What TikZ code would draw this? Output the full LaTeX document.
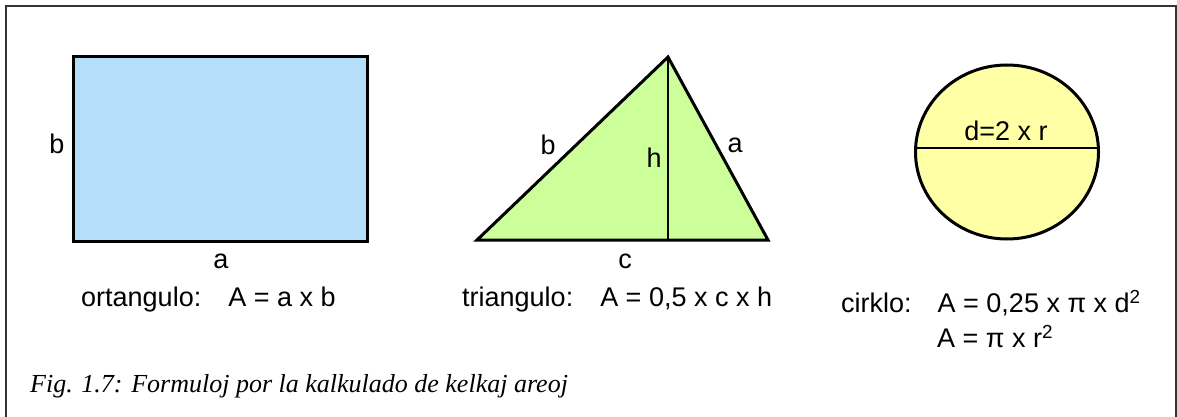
\documentclass[tikz,border=0pt]{standalone}
\usepackage{fontspec}
\setmainfont{Liberation Sans}
\newfontfamily\capfont{Liberation Serif}
\definecolor{rectfill}{RGB}{180,222,250}
\definecolor{trifill}{RGB}{204,255,153}
\definecolor{circfill}{RGB}{255,255,166}
\definecolor{framecol}{RGB}{51,51,51}
\begin{document}
\begin{tikzpicture}[x=1pt,y=-1pt,
  lbl/.style={inner sep=0pt, font=\fontsize{27}{32}\selectfont},
  shapeline/.style={line width=3pt, line join=miter},
  thinline/.style={line width=2pt},
  framebox/.style={draw=framecol, line width=1.5pt}]
\useasboundingbox (0,0) rectangle (1177,417);
% frame
\draw[framebox] (6,417) -- (6,6) -- (1176,6) -- (1176,417);
% rectangle
\coordinate (r1) at (73,57);
\coordinate (r2) at (367,241);
\draw[shapeline, fill=rectfill] (r1) rectangle (r2);
\node[lbl] (rb) at (57,144) {b};
\node[lbl] (ra) at (221,261) {a};
\node[lbl, anchor=west] (rf) at (81,300) {ortangulo:\hspace{27pt}A = a x b};
% triangle
\coordinate (tl) at (477,240);
\coordinate (tt) at (668,57);
\coordinate (tr) at (768,240);
\coordinate (tf) at (668,240);
\draw[shapeline, fill=trifill] (tl) -- (tt) -- (tr) -- cycle;
\draw[thinline] (tt) -- (tf);
\node[lbl] (tb) at (548,145) {b};
\node[lbl] (th) at (654,158) {h};
\node[lbl] (ta) at (735,145) {a};
\node[lbl] (tc) at (625,261) {c};
\node[lbl, anchor=west] (tfm) at (462,300) {triangulo:\hspace{27pt}A = 0,5 x c x h};
% circle
\coordinate (cc) at (1007,152);
\draw[shapeline, fill=circfill] (cc) ellipse [x radius=91.5, y radius=87];
\coordinate (dl) at (915,148);
\coordinate (dr) at (1100,148);
\draw[thinline] (dl) -- (dr);
\node[lbl] (cd) at (1006,131) {d=2 x r};
\node[lbl, anchor=west] (cf1) at (841,303) {cirklo:\hspace{26pt}A = 0,25 x π x d\textsuperscript{2}};
\node[lbl, anchor=west] (cf2) at (937,337) {A = π x r\textsuperscript{2}};
% caption
\node[inner sep=0pt, anchor=west, font=\capfont\itshape\fontsize{26}{30}\selectfont] (cap) at (30,386) {Fig. 1.7: Formuloj por la kalkulado de kelkaj areoj};
\end{tikzpicture}
\end{document}
